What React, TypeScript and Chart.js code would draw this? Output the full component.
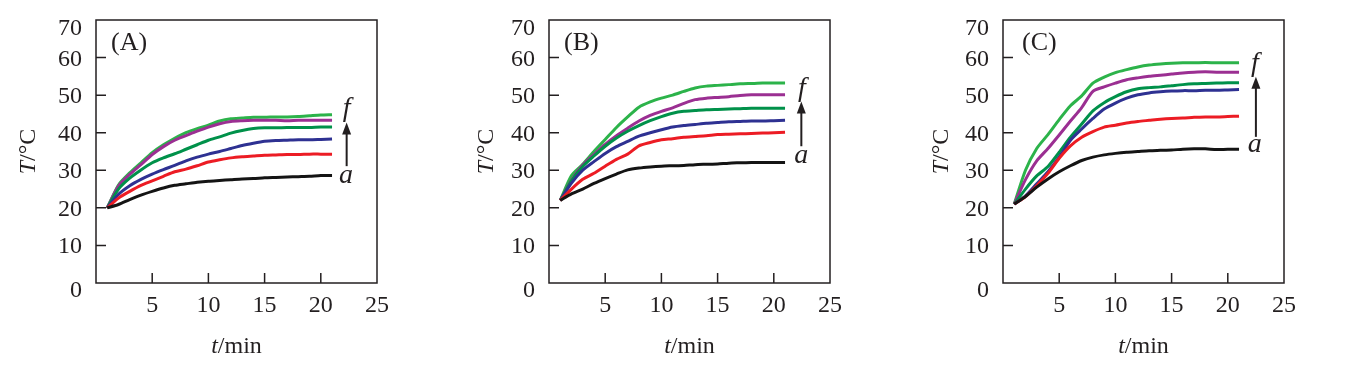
import React, { useEffect, useRef } from "react";
import { Chart, registerables } from "chart.js";

Chart.register(...registerables);

// ---- data ----
const timeMin = [1, 2, 3, 4, 5, 6, 7, 8, 9, 10, 11, 12, 13, 14, 15, 16, 17, 18, 19, 20, 21];
const xTicks = [5, 10, 15, 20, 25];
const yTicks = [0, 10, 20, 30, 40, 50, 60, 70];
const curveColors = ["#141414", "#ec1c24", "#2e3192", "#00914a", "#9b2f92", "#2cb34a"];

// Panel A
const A_a = [20, 20.9, 22.2, 23.4, 24.4, 25.3, 26.0, 26.4, 26.8, 27.1, 27.3, 27.5, 27.7, 27.8, 28.0, 28.1, 28.2, 28.3, 28.4, 28.6, 28.6];
const A_b = [20, 22.6, 24.4, 26.0, 27.2, 28.4, 29.6, 30.3, 31.2, 32.2, 32.8, 33.3, 33.6, 33.8, 34.0, 34.1, 34.2, 34.2, 34.3, 34.3, 34.3];
const A_c = [20, 23.6, 25.9, 27.6, 29.0, 30.2, 31.3, 32.5, 33.5, 34.3, 35.0, 35.8, 36.6, 37.2, 37.7, 37.9, 38.0, 38.1, 38.1, 38.2, 38.3];
const A_d = [20, 25.0, 27.9, 30.1, 32.0, 33.3, 34.4, 35.6, 36.8, 38.0, 38.9, 39.9, 40.6, 41.1, 41.3, 41.3, 41.4, 41.4, 41.4, 41.5, 41.5];
const A_e = [20, 25.8, 28.9, 31.5, 34.2, 36.3, 38.0, 39.2, 40.4, 41.5, 42.4, 43.0, 43.2, 43.3, 43.3, 43.3, 43.2, 43.3, 43.3, 43.3, 43.3];
const A_f = [20, 26.1, 29.3, 32.0, 34.7, 36.8, 38.5, 40.0, 41.1, 42.0, 43.1, 43.7, 43.9, 44.1, 44.1, 44.2, 44.2, 44.3, 44.5, 44.7, 44.8];

// Panel B
const B_a = [22, 23.7, 25.0, 26.5, 27.8, 29.0, 30.1, 30.6, 30.9, 31.1, 31.2, 31.3, 31.5, 31.6, 31.7, 31.9, 32.0, 32.1, 32.1, 32.1, 32.1];
const B_b = [22, 25.0, 27.6, 29.2, 31.1, 32.9, 34.3, 36.5, 37.4, 38.1, 38.4, 38.8, 39.0, 39.2, 39.5, 39.6, 39.7, 39.8, 39.9, 40.0, 40.1];
const B_c = [22, 26.6, 30.0, 32.3, 34.5, 36.3, 37.7, 39.1, 40.0, 40.8, 41.5, 41.9, 42.2, 42.5, 42.7, 42.9, 43.0, 43.1, 43.1, 43.2, 43.3];
const B_d = [22, 27.2, 31.0, 33.8, 36.4, 38.6, 40.4, 41.9, 43.2, 44.3, 45.2, 45.7, 45.9, 46.1, 46.2, 46.3, 46.4, 46.5, 46.5, 46.5, 46.5];
const B_e = [22, 27.4, 31.4, 34.2, 36.9, 39.2, 41.2, 43.1, 44.6, 45.7, 46.6, 47.8, 48.8, 49.2, 49.4, 49.6, 49.9, 50.1, 50.1, 50.1, 50.1];
const B_f = [22, 28.6, 31.6, 35.0, 38.2, 41.4, 44.2, 46.8, 48.2, 49.2, 50.0, 51.0, 51.9, 52.4, 52.6, 52.8, 53.0, 53.1, 53.2, 53.2, 53.2];

// Panel C
const C_a = [21, 23.0, 25.5, 27.7, 29.6, 31.2, 32.6, 33.5, 34.1, 34.5, 34.8, 35.0, 35.2, 35.3, 35.4, 35.6, 35.7, 35.7, 35.5, 35.6, 35.6];
const C_b = [21, 23.0, 25.9, 29.2, 33.2, 36.5, 38.8, 40.3, 41.5, 42.0, 42.6, 43.0, 43.3, 43.6, 43.8, 43.9, 44.1, 44.2, 44.2, 44.3, 44.4];
const C_c = [21, 23.2, 26.4, 29.6, 33.5, 38.0, 41.0, 43.8, 46.3, 47.9, 49.2, 50.1, 50.6, 50.9, 51.1, 51.2, 51.2, 51.3, 51.3, 51.4, 51.5];
const C_d = [21, 25.0, 28.5, 31.0, 34.8, 38.8, 42.3, 45.8, 48.0, 49.6, 50.9, 51.7, 52.0, 52.2, 52.5, 52.8, 53.0, 53.1, 53.2, 53.3, 53.3];
const C_e = [21, 27.5, 32.5, 35.8, 39.4, 43.1, 46.7, 51.0, 52.2, 53.2, 54.1, 54.6, 55.0, 55.3, 55.6, 55.9, 56.1, 56.2, 56.1, 56.1, 56.1];
const C_f = [21, 30.0, 35.8, 39.5, 43.5, 47.2, 49.8, 53.2, 54.8, 56.0, 56.8, 57.5, 58.0, 58.3, 58.5, 58.6, 58.6, 58.7, 58.6, 58.6, 58.6];

// ---- layout / style ----
const INK = "#231f20";
const FONT = "'Liberation Serif', 'Times New Roman', serif";
const X_MIN = 0, X_MAX = 25, Y_MIN = 0, Y_MAX = 70;
const TXT = 24;

type Panel = {
  label: string;
  series: number[][];
  left: number;
  width: number;
  labelDx: number;
  yTitleGap: number;
  fAt: [number, number];
  aAt: [number, number];
  arrow: [number, number, number];
};

const panels: Panel[] = [
  { label: "(A)", series: [A_a, A_b, A_c, A_d, A_e, A_f], left: 0, width: 453, labelDx: 15, yTitleGap: 61,
    fAt: [22.3, 44.4], aAt: [22.25, 26.6], arrow: [22.3, 31.1, 42.7] },
  { label: "(B)", series: [B_a, B_b, B_c, B_d, B_e, B_f], left: 453, width: 454, labelDx: 15, yTitleGap: 56,
    fAt: [22.5, 49.8], aAt: [22.45, 31.9], arrow: [22.45, 36.4, 48.3] },
  { label: "(C)", series: [C_a, C_b, C_c, C_d, C_e, C_f], left: 907, width: 455, labelDx: 19, yTitleGap: 55,
    fAt: [22.4, 56.3], aAt: [22.4, 34.9], arrow: [22.5, 38.9, 54.9] },
];

type Part = { text: string; italic?: boolean };

function drawParts(ctx: CanvasRenderingContext2D, parts: Part[], x: number, y: number, size: number) {
  const widths = parts.map((p) => {
    ctx.font = `${p.italic ? "italic " : ""}${size}px ${FONT}`;
    return ctx.measureText(p.text).width;
  });
  const total = widths.reduce((s, w) => s + w, 0);
  let cx = x - total / 2;
  ctx.textAlign = "left";
  parts.forEach((p, i) => {
    ctx.font = `${p.italic ? "italic " : ""}${size}px ${FONT}`;
    ctx.fillText(p.text, cx, y);
    cx += widths[i];
  });
}

function makeDecor(p: Panel) {
  return {
    id: "decor",
    afterDraw(chart: any) {
      const { ctx, chartArea: ca, scales } = chart;
      const xs = scales.x;
      const ys = scales.y;
      ctx.save();
      ctx.strokeStyle = INK;
      ctx.fillStyle = INK;
      ctx.lineWidth = 1.5;
      ctx.strokeRect(ca.left, ca.top, ca.right - ca.left, ca.bottom - ca.top);

      // inward tick marks
      ctx.beginPath();
      xTicks.forEach((v) => {
        if (v > X_MIN && v < X_MAX) {
          const px = xs.getPixelForValue(v);
          ctx.moveTo(px, ca.bottom);
          ctx.lineTo(px, ca.bottom - 10);
        }
      });
      yTicks.forEach((v) => {
        if (v > Y_MIN && v < Y_MAX) {
          const py = ys.getPixelForValue(v);
          ctx.moveTo(ca.left, py);
          ctx.lineTo(ca.left + 10, py);
        }
      });
      ctx.stroke();

      // tick labels
      ctx.font = `${TXT}px ${FONT}`;
      ctx.textBaseline = "alphabetic";
      ctx.textAlign = "right";
      yTicks.forEach((v) => {
        const py = ys.getPixelForValue(v);
        let base = py + 8;
        if (v === Y_MAX) base = py + 15;
        if (v === Y_MIN) base = py + 14;
        ctx.fillText(String(v), ca.left - 14, base);
      });
      ctx.textAlign = "center";
      xTicks.forEach((v) => {
        ctx.fillText(String(v), xs.getPixelForValue(v), ca.bottom + 29);
      });

      // axis titles
      drawParts(ctx, [{ text: "t", italic: true }, { text: "/min" }], (ca.left + ca.right) / 2, ca.bottom + 70, TXT);
      ctx.save();
      ctx.translate(ca.left - p.yTitleGap, (ca.top + ca.bottom) / 2);
      ctx.rotate(-Math.PI / 2);
      drawParts(ctx, [{ text: "T", italic: true }, { text: "/°C" }], 0, 0, TXT);
      ctx.restore();

      // panel label
      ctx.font = `26px ${FONT}`;
      ctx.textAlign = "left";
      ctx.fillText(p.label, ca.left + p.labelDx, ca.top + 30);

      // f / a annotations
      ctx.font = `italic 28px ${FONT}`;
      ctx.textAlign = "center";
      ctx.fillText("f", xs.getPixelForValue(p.fAt[0]), ys.getPixelForValue(p.fAt[1]));
      ctx.fillText("a", xs.getPixelForValue(p.aAt[0]), ys.getPixelForValue(p.aAt[1]));

      // arrow
      const ax = xs.getPixelForValue(p.arrow[0]);
      const ay0 = ys.getPixelForValue(p.arrow[1]);
      const ay1 = ys.getPixelForValue(p.arrow[2]);
      ctx.lineWidth = 2;
      ctx.beginPath();
      ctx.moveTo(ax, ay0);
      ctx.lineTo(ax, ay1 + 8);
      ctx.stroke();
      ctx.beginPath();
      ctx.moveTo(ax, ay1);
      ctx.lineTo(ax - 4.5, ay1 + 12);
      ctx.lineTo(ax + 4.5, ay1 + 12);
      ctx.closePath();
      ctx.fill();
      ctx.restore();
    },
  };
}

function PanelChart({ p }: { p: Panel }) {
  const ref = useRef<HTMLCanvasElement | null>(null);
  useEffect(() => {
    if (!ref.current) return;
    const chart = new Chart(ref.current, {
      type: "line",
      data: {
        datasets: p.series.map((s, i) => ({
          data: s.map((y, j) => ({ x: timeMin[j], y })),
          borderColor: curveColors[i],
          borderWidth: 3,
          pointRadius: 0,
          tension: 0.25,
          fill: false,
        })),
      },
      options: {
        animation: false,
        responsive: false,
        devicePixelRatio: 1,
        layout: { padding: { left: 96, right: p.width - 96 - 281, top: 20, bottom: 82 } },
        scales: {
          x: { type: "linear", min: X_MIN, max: X_MAX, display: false },
          y: { type: "linear", min: Y_MIN, max: Y_MAX, display: false },
        },
        plugins: { legend: { display: false }, tooltip: { enabled: false } },
        events: [],
      },
      plugins: [makeDecor(p)],
    });
    return () => chart.destroy();
  }, [p]);
  return (
    <div style={{ position: "absolute", left: p.left, top: 0, width: p.width, height: 365 }}>
      <canvas ref={ref} width={p.width} height={365} style={{ display: "block" }} />
    </div>
  );
}

export default function App() {
  return (
    <div style={{ position: "absolute", left: 0, top: 0, width: 1362, height: 365, background: "#fff", overflow: "hidden" }}>
      {panels.map((p) => (
        <PanelChart key={p.label} p={p} />
      ))}
    </div>
  );
}
